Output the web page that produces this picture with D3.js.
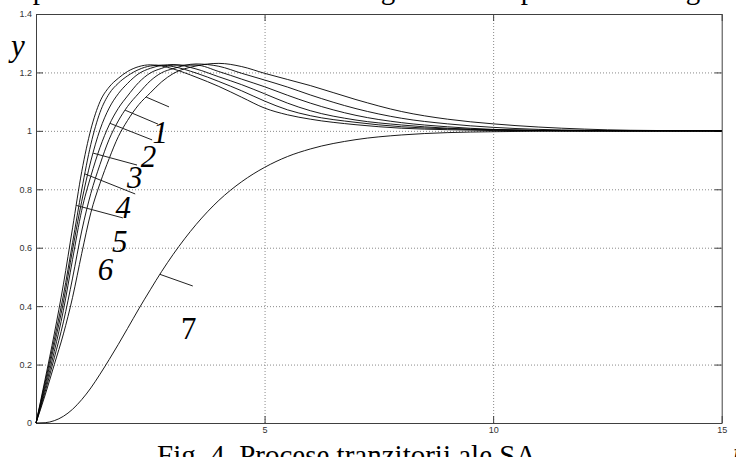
<!DOCTYPE html>
<html>
<head>
<meta charset="utf-8">
<script src="https://cdn.jsdelivr.net/npm/d3@7"></script>
<style>
html,body{margin:0;padding:0;background:#fff;overflow:hidden}
svg{display:block}
</style>
</head>
<body>
<svg id="chart" width="736" height="457"></svg>
<script>
// ---- data ----
const time = [0, 0.2, 0.4, 0.6, 0.8, 1.0, 1.2, 1.4, 1.6, 1.8, 2.0, 2.25, 2.5, 2.75, 3.0, 3.5, 4.0, 4.5, 5.0, 5.5, 6.0, 7.0, 8.0, 9.0, 10, 11, 12, 13, 15];
// curve labelled 1 (slowest of the oscillating family) ... 6 (fastest)
const curve1 = [0, 0.096, 0.2, 0.305, 0.43, 0.58, 0.72, 0.82, 0.905, 0.98, 1.035, 1.09, 1.13, 1.168, 1.196, 1.222, 1.231, 1.220, 1.197, 1.176, 1.155, 1.107, 1.066, 1.040, 1.024, 1.013, 1.006, 1.002, 1.0];
const curve2 = [0, 0.107, 0.223, 0.346, 0.496, 0.657, 0.786, 0.885, 0.971, 1.034, 1.083, 1.129, 1.171, 1.199, 1.213, 1.229, 1.221, 1.197, 1.174, 1.150, 1.123, 1.076, 1.043, 1.024, 1.012, 1.005, 1.002, 1.0, 1.0];
const curve3 = [0, 0.118, 0.245, 0.386, 0.560, 0.728, 0.845, 0.943, 1.020, 1.077, 1.119, 1.166, 1.198, 1.214, 1.225, 1.225, 1.203, 1.177, 1.151, 1.122, 1.095, 1.053, 1.028, 1.014, 1.005, 1.002, 1.0, 1.0, 1.0];
const curve4 = [0, 0.129, 0.267, 0.414, 0.593, 0.759, 0.897, 1.004, 1.078, 1.127, 1.162, 1.196, 1.214, 1.224, 1.227, 1.212, 1.185, 1.158, 1.127, 1.095, 1.069, 1.037, 1.020, 1.009, 1.004, 1.001, 1.0, 1.0, 1.0];
const curve5 = [0, 0.14, 0.285, 0.438, 0.617, 0.798, 0.954, 1.063, 1.127, 1.163, 1.188, 1.210, 1.222, 1.225, 1.220, 1.198, 1.169, 1.137, 1.102, 1.072, 1.052, 1.029, 1.014, 1.007, 1.003, 1.001, 1.0, 1.0, 1.0];
const curve6 = [0, 0.15, 0.305, 0.475, 0.668, 0.86, 1.005, 1.10, 1.15, 1.18, 1.203, 1.22, 1.226, 1.222, 1.212, 1.184, 1.152, 1.115, 1.078, 1.055, 1.04, 1.021, 1.009, 1.004, 1.001, 1.0, 1.0, 1.0, 1.0];
const curve7 = [0, 0.001, 0.008, 0.023, 0.047, 0.080, 0.120, 0.167, 0.217, 0.269, 0.323, 0.391, 0.456, 0.519, 0.577, 0.679, 0.762, 0.826, 0.875, 0.912, 0.938, 0.970, 0.986, 0.994, 0.997, 0.999, 1.0, 1.0, 1.0];

const seriesNames = ["1", "2", "3", "4", "5", "6", "7"];
const seriesValues = [curve1, curve2, curve3, curve4, curve5, curve6, curve7];
const seriesItalic = [true, true, true, true, true, true, false];

// leader lines: start time on the curve, end point (time, value)
const leaderStartT = [2.41, 1.95, 1.62, 1.25, 1.07, 0.88, 2.71];
const leaderEndT = [2.91, 2.67, 2.54, 2.21, 2.17, 1.90, 3.43];
const leaderEndY = [1.082, 1.023, 0.969, 0.883, 0.784, 0.702, 0.469];
// label centre (time) and baseline (value)
const labelT = [2.72, 2.46, 2.16, 1.91, 1.83, 1.52, 3.34];
const labelY = [0.958, 0.876, 0.804, 0.702, 0.585, 0.489, 0.288];

const xDomain = [0, 15];
const yDomain = [0, 1.4];
const xTicks = [5, 10, 15];
const xTickLabels = ["5", "10", "15"];
const yTicks = [0, 0.2, 0.4, 0.6, 0.8, 1.0, 1.2, 1.4];
const yTickLabels = ["0", "0.2", "0.4", "0.6", "0.8", "1", "1.2", "1.4"];
const xGrid = [5, 10];
const yGrid = [0.2, 0.4, 0.6, 0.8, 1.0, 1.2];

const yAxisTitle = "y";
const xAxisTitle = "t";
const caption = "Fig. 4. Procese tranzitorii ale SA";
const topFragments = ["p", "g", "p", "g"];

// ---- layout ----
const svg = d3.select("#chart");
const L = 36, R = 721.7, T = 14, B = 423;
const x = d3.scaleLinear().domain(xDomain).range([L, R]);
const y = d3.scaleLinear().domain(yDomain).range([B, T]);
const W = R - L, H = B - T;
const serif = "'Liberation Serif','Times New Roman',serif";
const sans = "'Liberation Sans',Arial,Helvetica,sans-serif";

// grid
const gridY = svg.append("g").attr("transform", `translate(${L},0)`)
  .call(d3.axisLeft(y).tickValues(yGrid).tickSize(-W).tickFormat(""));
const gridX = svg.append("g").attr("transform", `translate(0,${B})`)
  .call(d3.axisBottom(x).tickValues(xGrid).tickSize(-H).tickFormat(""));
[gridY, gridX].forEach(g => {
  g.select(".domain").remove();
  g.selectAll("line").attr("stroke", "#8a8a8a").attr("stroke-width", 1).attr("stroke-dasharray", "1,2");
});

// axes (MATLAB style, ticks inside on all four sides)
const tickLen = 7;
const axL = svg.append("g").attr("transform", `translate(${L},0)`)
  .call(d3.axisLeft(y).tickValues(yTicks).tickFormat((d, i) => yTickLabels[i]).tickSizeInner(-tickLen).tickSizeOuter(0).tickPadding(4));
const axB = svg.append("g").attr("transform", `translate(0,${B})`)
  .call(d3.axisBottom(x).tickValues(xTicks).tickFormat((d, i) => xTickLabels[i]).tickSizeInner(-tickLen).tickSizeOuter(0).tickPadding(4));
const axT = svg.append("g").attr("transform", `translate(0,${T})`)
  .call(d3.axisTop(x).tickValues(xTicks).tickFormat("").tickSizeInner(-tickLen).tickSizeOuter(0));
const axR = svg.append("g").attr("transform", `translate(${R},0)`)
  .call(d3.axisRight(y).tickValues(yTicks).tickFormat("").tickSizeInner(-tickLen).tickSizeOuter(0));
[axL, axB, axT, axR].forEach(g => {
  g.select(".domain").attr("stroke", "#404040").attr("stroke-width", 1);
  g.selectAll(".tick line").attr("stroke", "#404040").attr("stroke-width", 1);
  g.selectAll("text").attr("font-family", sans).attr("font-size", 9).attr("fill", "#333");
});

// curves
const line = d3.line()
  .x((d, i) => x(time[i]))
  .y(d => y(d))
  .curve(d3.curveMonotoneX);
svg.append("g").selectAll("path")
  .data(seriesValues)
  .join("path")
  .attr("d", line)
  .attr("fill", "none")
  .attr("stroke", "#000")
  .attr("stroke-width", 0.9);

// leader lines + labels
function valueAt(vals, t) {
  const i = Math.max(0, Math.min(time.length - 2, d3.bisectRight(time, t) - 1));
  const f = (t - time[i]) / (time[i + 1] - time[i]);
  return vals[i] + f * (vals[i + 1] - vals[i]);
}
const idx = d3.range(seriesNames.length);
svg.append("g").selectAll("line")
  .data(idx)
  .join("line")
  .attr("x1", i => x(leaderStartT[i]))
  .attr("y1", i => y(valueAt(seriesValues[i], leaderStartT[i])))
  .attr("x2", i => x(leaderEndT[i]))
  .attr("y2", i => y(leaderEndY[i]))
  .attr("stroke", "#222")
  .attr("stroke-width", 1);
svg.append("g").selectAll("text")
  .data(idx)
  .join("text")
  .attr("x", i => x(labelT[i]))
  .attr("y", i => y(labelY[i]))
  .attr("text-anchor", "middle")
  .attr("font-family", serif)
  .attr("font-style", i => seriesItalic[i] ? "italic" : "normal")
  .attr("font-size", 31)
  .attr("fill", "#000")
  .text(i => seriesNames[i]);

// axis titles
svg.append("text").attr("x", 11).attr("y", 56)
  .attr("font-family", serif).attr("font-style", "italic").attr("font-size", 31)
  .text(yAxisTitle);
svg.append("text").attr("x", 733).attr("y", 463)
  .attr("font-family", serif).attr("font-style", "italic").attr("font-size", 30)
  .text(xAxisTitle);

// caption (partly cut at the bottom in the reference)
svg.append("text").attr("x", 157).attr("y", 465)
  .attr("font-family", serif).attr("font-size", 29)
  .text(caption);

// descender fragments of the line above the figure
const fragX = [40, 388, 528, 693];
svg.append("g").selectAll("text")
  .data(topFragments)
  .join("text")
  .attr("x", (d, i) => fragX[i])
  .attr("y", -1)
  .attr("text-anchor", "middle")
  .attr("font-family", serif).attr("font-size", 29)
  .text(d => d);
</script>
</body>
</html>
